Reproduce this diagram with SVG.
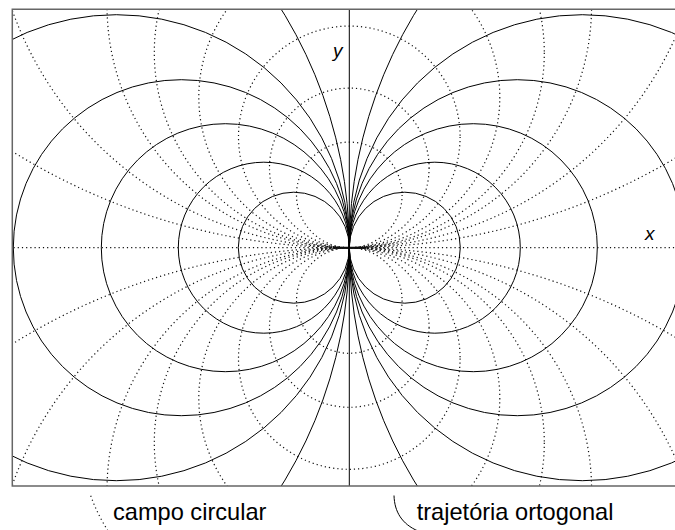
<svg xmlns="http://www.w3.org/2000/svg" width="675" height="530" viewBox="0 0 675 530">
<style>
.s{fill:none;stroke:#000;stroke-width:1}
.d{fill:none;stroke:#111;stroke-width:1.2;stroke-dasharray:1.2 3}
.lab{font-family:"Liberation Sans",Arial,sans-serif;fill:#000}
.ax{font-style:italic;font-size:19px}
.leg{font-size:23.6px}
</style>
<defs>
<clipPath id="clip"><rect x="12.3" y="9.3" width="680" height="476.7"/></clipPath>
</defs>
<rect width="675" height="530" fill="#fff"/>
<g id="plot" clip-path="url(#clip)">
<g transform="translate(349.3 247.7)">
<g id="campo-circular">
<line class="d" x1="-340" y1="0" x2="340" y2="0"/>
<line x1="-16" y1="0" x2="17" y2="0" stroke="#000" stroke-width="2"/>
<circle class="d" cx="0" cy="-52.8" r="52.8"/>
<circle class="d" cx="0" cy="-79.8" r="79.8"/>
<circle class="d" cx="0" cy="-110.8" r="110.8"/>
<circle class="d" cx="0" cy="-150.5" r="150.5"/>
<circle class="d" cx="0" cy="-195" r="195"/>
<circle class="d" cx="0" cy="-242.3" r="242.3"/>
<circle class="d" cx="0" cy="-358" r="358"/>
<circle class="d" cx="0" cy="-638" r="638"/>
<circle class="d" cx="0" cy="52.8" r="52.8"/>
<circle class="d" cx="0" cy="79.8" r="79.8"/>
<circle class="d" cx="0" cy="110.8" r="110.8"/>
<circle class="d" cx="0" cy="150.5" r="150.5"/>
<circle class="d" cx="0" cy="195" r="195"/>
<circle class="d" cx="0" cy="242.3" r="242.3"/>
<circle class="d" cx="0" cy="358" r="358"/>
<circle class="d" cx="0" cy="638" r="638"/>
</g>
<g id="trajetoria-ortogonal">
<line class="s" x1="0" y1="-240" x2="0" y2="240"/>
<circle class="s" cx="-55.5" cy="0" r="55.5"/>
<circle class="s" cx="-85.5" cy="0" r="85.5"/>
<circle class="s" cx="-124" cy="0" r="124"/>
<circle class="s" cx="-168" cy="0" r="168"/>
<circle class="s" cx="-233" cy="0" r="233"/>
<circle class="s" cx="-452" cy="0" r="452"/>
<circle class="s" cx="55.5" cy="0" r="55.5"/>
<circle class="s" cx="85.5" cy="0" r="85.5"/>
<circle class="s" cx="124" cy="0" r="124"/>
<circle class="s" cx="168" cy="0" r="168"/>
<circle class="s" cx="233" cy="0" r="233"/>
<circle class="s" cx="452" cy="0" r="452"/>
</g>
</g>
</g>
<path id="frame" d="M690,9.3 H12.3 V486 H690" fill="none" stroke="#666" stroke-width="1.5"/>
<g id="axis-labels">
<text class="lab ax" x="333" y="57">y</text>
<text class="lab ax" x="645" y="240">x</text>
</g>
<g id="legend">
<path class="d" d="M90.7,495.7 Q97.4,514.3 107.5,530"/>
<text class="lab leg" x="113" y="519.5">campo circular</text>
<path class="s" d="M394,495.5 C394.5,512 402,524 418,531"/>
<text class="lab leg" x="416.7" y="519.5">trajetória ortogonal</text>
</g>
</svg>
